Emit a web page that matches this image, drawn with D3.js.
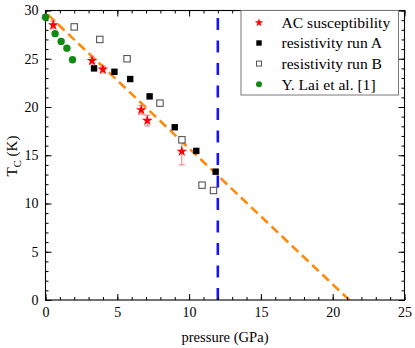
<!DOCTYPE html>
<html>
<head>
<meta charset="utf-8">
<script src="https://cdn.jsdelivr.net/npm/d3@7"></script>
<style>
  body { margin: 0; background: #fff; }
  svg { display: block; }
</style>
</head>
<body>
<script>
// data
const acP = [0.54, 3.24, 3.99, 6.67, 7.09, 9.49];
const acT = [28.5, 24.8, 23.9, 19.7, 18.6, 15.4];
const acErr = [0.4, 0.35, 0.35, 0.45, 0.55, 1.4];

const runAP = [3.38, 4.8, 5.9, 7.25, 9.0, 10.5, 11.85];
const runAT = [24.0, 23.65, 22.9, 21.1, 17.9, 15.45, 13.3];

const runBP = [2.0, 3.78, 5.68, 7.97, 9.5, 10.9, 11.7];
const runBT = [28.3, 27.0, 25.0, 20.4, 16.6, 11.9, 11.35];

const laiP = [0, 0.67, 1.09, 1.49, 1.88];
const laiT = [29.3, 27.6, 26.8, 26.1, 24.9];

const fitP = [0, 21.15];
const fitT = [29.8, 0];
const criticalP = 12;

const xTicks = [0, 5, 10, 15, 20, 25];
const yTicks = [0, 5, 10, 15, 20, 25, 30];

const legendLabels = ["AC susceptibility", "resistivity run A", "resistivity run B", "Y. Lai et al. [1]"];

const FONT = "'Liberation Serif', 'Times New Roman', Times, serif";
const W = 415, H = 348;
const svg = d3.select("body").append("svg").attr("width", W).attr("height", H)
  .style("font-family", FONT);

const x = d3.scaleLinear().domain([0, 25]).range([45.5, 404.5]);
const y = d3.scaleLinear().domain([0, 30]).range([300, 10.5]);

// clip to plot area
svg.append("clipPath").attr("id", "clip")
  .append("rect")
  .attr("x", x(0)).attr("y", y(30))
  .attr("width", x(25) - x(0)).attr("height", y(0) - y(30));

const plot = svg.append("g").attr("clip-path", "url(#clip)");

// vertical blue dashed line
plot.append("line")
  .attr("x1", x(criticalP)).attr("x2", x(criticalP))
  .attr("y1", y(0)).attr("y2", y(30))
  .attr("stroke", "#1414ff")
  .attr("stroke-width", 2.6)
  .attr("stroke-dasharray", "12,10.5");

// linear fit
plot.append("line")
  .attr("x1", x(fitP[1])).attr("y1", y(fitT[1]))
  .attr("x2", x(fitP[0])).attr("y2", y(fitT[0]))
  .attr("stroke", "#ff8a0a")
  .attr("stroke-width", 2.6)
  .attr("stroke-dasharray", "9,5");

// axes: major + minor ticks on all four sides, pointing inward
function styleAxis(g) {
  g.attr("font-family", null);
  g.selectAll("text").style("font-size", "14px").style("font-family", FONT).attr("fill", "#000");
  g.selectAll("line").attr("stroke", "#000");
  g.select(".domain").remove();
}

const minorX = d3.range(0, 26);
const minorY = d3.range(0, 31);

svg.append("g").attr("transform", `translate(0,${y(0)})`)
  .call(d3.axisBottom(x).tickValues(xTicks).tickSize(-6).tickPadding(7))
  .call(styleAxis);
svg.append("g").attr("transform", `translate(0,${y(0)})`)
  .call(d3.axisBottom(x).tickValues(minorX).tickSize(-3).tickFormat(""))
  .call(styleAxis);
svg.append("g").attr("transform", `translate(0,${y(30)})`)
  .call(d3.axisTop(x).tickValues(xTicks).tickSize(-6).tickFormat(""))
  .call(styleAxis);
svg.append("g").attr("transform", `translate(0,${y(30)})`)
  .call(d3.axisTop(x).tickValues(minorX).tickSize(-3).tickFormat(""))
  .call(styleAxis);

svg.append("g").attr("transform", `translate(${x(0)},0)`)
  .call(d3.axisLeft(y).tickValues(yTicks).tickSize(-6).tickPadding(7))
  .call(styleAxis);
svg.append("g").attr("transform", `translate(${x(0)},0)`)
  .call(d3.axisLeft(y).tickValues(minorY).tickSize(-3).tickFormat(""))
  .call(styleAxis);
svg.append("g").attr("transform", `translate(${x(25)},0)`)
  .call(d3.axisRight(y).tickValues(yTicks).tickSize(-6).tickFormat(""))
  .call(styleAxis);
svg.append("g").attr("transform", `translate(${x(25)},0)`)
  .call(d3.axisRight(y).tickValues(minorY).tickSize(-3).tickFormat(""))
  .call(styleAxis);

// frame
svg.append("rect")
  .attr("x", x(0)).attr("y", y(30))
  .attr("width", x(25) - x(0)).attr("height", y(0) - y(30))
  .attr("fill", "none").attr("stroke", "#000").attr("stroke-width", 1.1);

// markers
const star = d3.symbol().type(d3.symbolStar).size(36);
const starSmall = d3.symbol().type(d3.symbolStar).size(22);

const ac = acP.map((p, i) => ({ p, t: acT[i], e: acErr[i] }));

const err = svg.append("g").attr("stroke", "#ff8888").attr("stroke-width", 1.2);
ac.forEach((d) => {
  err.append("line")
    .attr("x1", x(d.p)).attr("x2", x(d.p))
    .attr("y1", y(d.t - d.e)).attr("y2", y(d.t + d.e));
  [d.t - d.e, d.t + d.e].forEach((v) => {
    err.append("line")
      .attr("x1", x(d.p) - 3).attr("x2", x(d.p) + 3)
      .attr("y1", y(v)).attr("y2", y(v));
  });
});

svg.append("g").selectAll("path")
  .data(ac)
  .join("path")
  .attr("d", star)
  .attr("transform", (d) => `translate(${x(d.p)},${y(d.t)})`)
  .attr("fill", "#ff0000");

svg.append("g").selectAll("rect")
  .data(runBP.map((p, i) => [p, runBT[i]]))
  .join("rect")
  .attr("x", (d) => x(d[0]) - 3.2)
  .attr("y", (d) => y(d[1]) - 3.2)
  .attr("width", 6.4).attr("height", 6.4)
  .attr("fill", "#fff")
  .attr("stroke", "#555")
  .attr("stroke-width", 1.1);

svg.append("g").selectAll("rect")
  .data(runAP.map((p, i) => [p, runAT[i]]))
  .join("rect")
  .attr("x", (d) => x(d[0]) - 3.2)
  .attr("y", (d) => y(d[1]) - 3.2)
  .attr("width", 6.4).attr("height", 6.4)
  .attr("fill", "#000");

svg.append("g").selectAll("circle")
  .data(laiP.map((p, i) => [p, laiT[i]]))
  .join("circle")
  .attr("cx", (d) => x(d[0]))
  .attr("cy", (d) => y(d[1]))
  .attr("r", 3.7)
  .attr("fill", "#118a11");

// legend
const lg = svg.append("g");
lg.append("rect")
  .attr("x", 241).attr("y", 10.5)
  .attr("width", 157.5).attr("height", 84.5)
  .attr("fill", "#fff").attr("stroke", "#777").attr("stroke-width", 1);

const rowY = [22.7, 43, 63.6, 84.3];
const symX = 259, textX = 281.5;

lg.append("path").attr("d", starSmall)
  .attr("transform", `translate(${symX},${rowY[0]})`).attr("fill", "#ff0000");
lg.append("rect").attr("x", symX - 2.7).attr("y", rowY[1] - 2.7)
  .attr("width", 5.4).attr("height", 5.4).attr("fill", "#000");
lg.append("rect").attr("x", symX - 2.5).attr("y", rowY[2] - 2.5)
  .attr("width", 5).attr("height", 5).attr("fill", "#fff")
  .attr("stroke", "#555").attr("stroke-width", 1);
lg.append("circle").attr("cx", symX).attr("cy", rowY[3]).attr("r", 3)
  .attr("fill", "#118a11");

lg.selectAll("text.lab")
  .data(legendLabels)
  .join("text")
  .attr("class", "lab")
  .attr("x", textX)
  .attr("y", (d, i) => rowY[i] + 5.3)
  .style("font-size", "15.6px")
  .text((d) => d);

// axis titles
svg.append("text")
  .attr("x", (x(0) + x(25)) / 2)
  .attr("y", 341.5)
  .attr("text-anchor", "middle")
  .style("font-size", "14.6px")
  .text("pressure (GPa)");

const yl = svg.append("text")
  .attr("transform", "translate(17,156) rotate(-90)")
  .attr("text-anchor", "middle")
  .style("font-size", "15px");
yl.append("tspan").text("T");
yl.append("tspan").attr("dy", 4).style("font-size", "10.5px").text("C");
yl.append("tspan").attr("dy", -4).text(" (K)");
</script>
</body>
</html>
